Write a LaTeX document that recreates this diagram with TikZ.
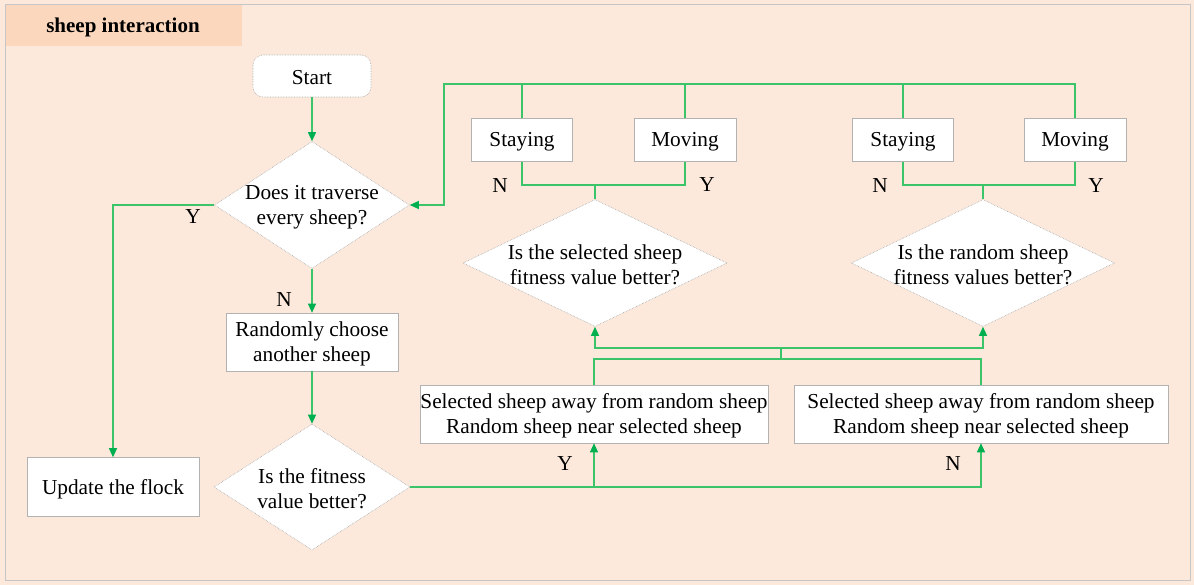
\documentclass[tikz,border=0pt]{standalone}
\usepackage{fontspec}
\setmainfont{Liberation Serif}
\usetikzlibrary{arrows.meta,shapes.geometric}
\definecolor{bgc}{HTML}{FCE9DB}
\definecolor{tabc}{HTML}{FAD7BD}
\definecolor{lnc}{HTML}{3CC46A}
\definecolor{arc}{HTML}{00B050}
\tikzset{
  ln/.style={draw=lnc,line width=1.2pt},
  arr/.style={ln,-{Triangle[length=9pt,width=8pt,color=arc]}},
  boxn/.style={draw=gray!60,line width=0.6pt,fill=white,inner sep=0pt},
  dia/.style={diamond,draw=gray!70,densely dotted,line width=0.6pt,fill=white,inner sep=0pt},
  txt/.style={align=center,inner sep=0pt,yshift=-2pt,font=\fontsize{21.3}{25}\selectfont},
  lab/.style={inner sep=0pt,font=\fontsize{21.3}{25}\selectfont},
}
\begin{document}
\begin{tikzpicture}[x=1pt,y=-1pt]
\useasboundingbox (0,0) rectangle (1194,585);
\fill[bgc] (0,0) rectangle (1194,585);
\draw[gray!45,line width=1pt,fill=bgc] (5,5) rectangle (1190,580);
\fill[tabc] (5.5,5.5) rectangle (242,46);
\node[lab,font=\fontsize{21}{25}\selectfont\bfseries] (title) at (123,27) {sheep interaction};

% nodes
\node[boxn,rounded corners=10pt,draw=gray!70,densely dotted,minimum width=118pt,minimum height=42pt] (start) at (312,76) {};
\node[txt] at (start) {Start};
\node[dia,minimum width=195pt,minimum height=127pt] (d1) at (312,205) {};
\node[txt] at (d1) {Does it traverse\\every sheep?};
\node[boxn,minimum width=172pt,minimum height=59pt] (upd) at (113,487) {};
\node[txt] at (upd) {Update the flock};
\node[boxn,minimum width=172pt,minimum height=58pt] (rnd) at (312,342) {};
\node[txt] at (rnd) {Randomly choose\\another sheep};
\node[dia,minimum width=196pt,minimum height=126pt] (d2) at (312,487) {};
\node[txt] at (d2) {Is the fitness\\value better?};
\node[boxn,minimum width=348pt,minimum height=58pt] (a1) at (594,414) {};
\node[txt] at (a1) {Selected sheep away from random sheep\\Random sheep near selected sheep};
\node[boxn,minimum width=374pt,minimum height=58pt] (a2) at (981,414) {};
\node[txt] at (a2) {Selected sheep away from random sheep\\Random sheep near selected sheep};
\node[dia,minimum width=264pt,minimum height=127pt] (d3) at (595,263) {};
\node[txt] at (d3) {Is the selected sheep\\fitness value better?};
\node[dia,minimum width=263pt,minimum height=127pt] (d4) at (983,263) {};
\node[txt] at (d4) {Is the random sheep\\fitness values better?};
\node[boxn,minimum width=101pt,minimum height=43pt] (s1) at (522,140) {};
\node[txt] at (s1) {Staying};
\node[boxn,minimum width=102pt,minimum height=43pt] (mv1) at (685,140) {};
\node[txt] at (mv1) {Moving};
\node[boxn,minimum width=101pt,minimum height=43pt] (s2) at (903,140) {};
\node[txt] at (s2) {Staying};
\node[boxn,minimum width=102pt,minimum height=43pt] (mv2) at (1075,140) {};
\node[txt] at (mv2) {Moving};

% labels
\node[lab] (ly1) at (193,217) {Y};
\node[lab] (ln1) at (284,300) {N};
\node[lab] (ly2) at (565,464) {Y};
\node[lab] (ln2) at (953,464) {N};
\node[lab] (ln3) at (500,186) {N};
\node[lab] (ly3) at (707,185) {Y};
\node[lab] (ln4) at (880,186) {N};
\node[lab] (ly4) at (1096,186) {Y};

% coordinates
\coordinate (m1) at (781,359);
\coordinate (m2) at (781,348);
\coordinate (j1) at (595,185);
\coordinate (j2) at (983,185);
\coordinate (t) at (444,84);

% connectors
\draw[arr] (start) -- (d1.north);
\draw[arr] (d1.west) -| (upd.north);
\draw[arr] (d1.south) -- (rnd.north);
\draw[arr] (rnd.south) -- (d2.north);
\draw[arr] (d2.east) -| (a2.south);
\draw[arr] (d2.east -| a1.south) -- (a1.south);
\draw[ln] (a1.north) |- (m1) -| (a2.north);
\draw[ln] (m1) -- (m2);
\draw[arr] (m2) -| (d3.south);
\draw[arr] (m2) -| (d4.south);
\draw[ln] (d3.north) -- (j1);
\draw[ln] (s1.south) |- (j1) -| (mv1.south);
\draw[ln] (d4.north) -- (j2);
\draw[ln] (s2.south) |- (j2) -| (mv2.south);
\draw[arr] (mv2.north) |- (t) |- (d1.east);
\draw[ln] (s1.north) -- (s1.north |- t);
\draw[ln] (mv1.north) -- (mv1.north |- t);
\draw[ln] (s2.north) -- (s2.north |- t);
\end{tikzpicture}
\end{document}
